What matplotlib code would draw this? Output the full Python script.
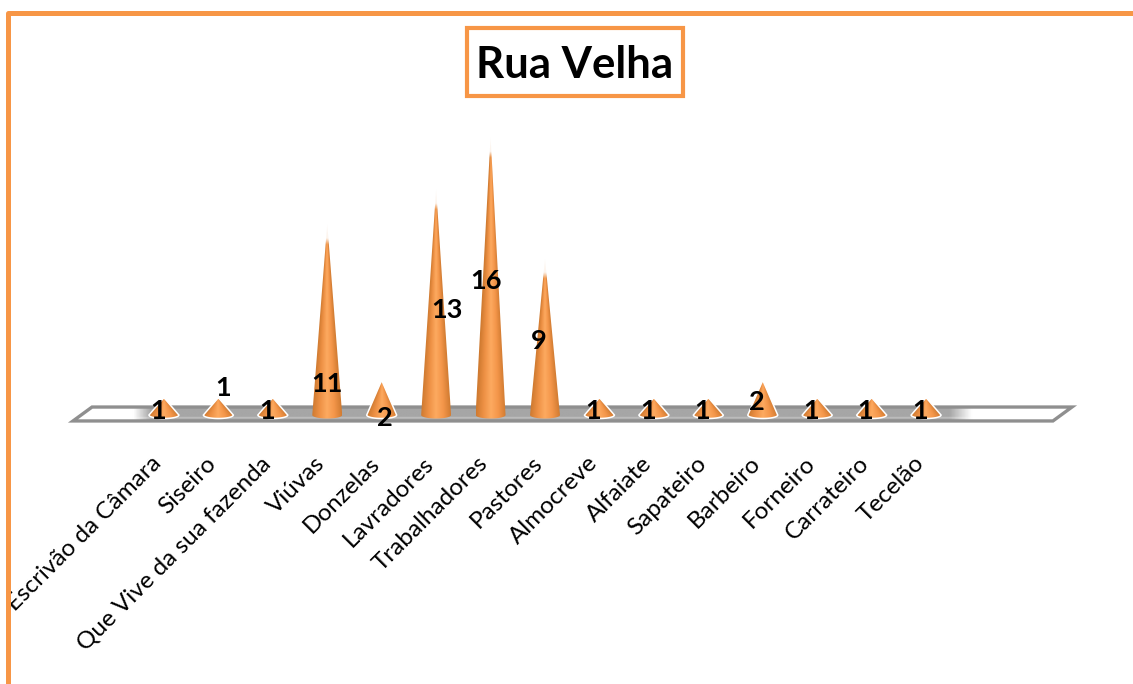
import numpy as np
import matplotlib
matplotlib.use("Agg")
import matplotlib.pyplot as plt
from matplotlib.colors import LinearSegmentedColormap
from matplotlib.lines import Line2D
from matplotlib.patches import PathPatch, Polygon, Rectangle
from matplotlib.path import Path
from matplotlib.transforms import ScaledTranslation

plt.rcParams["font.family"] = ["Lato", "DejaVu Sans"]

# Values
occupations = ["Escrivão da Câmara", "Siseiro", "Que Vive da sua fazenda", "Viúvas",
               "Donzelas", "Lavradores", "Trabalhadores", "Pastores", "Almocreve",
               "Alfaiate", "Sapateiro", "Barbeiro", "Forneiro", "Carrateiro", "Tecelão"]
counts = [1, 1, 1, 11, 2, 13, 16, 9, 1, 1, 1, 2, 1, 1, 1]

# Where each number sits relative to the tip of its cone, in pixels
label_dx = [-6, 5, -6, 0, 3, 11, -5, -6, -6, -6, -6, -6, -6, -6, -6]
label_dy = [-13, 10, -13, -160, -38, -121, -144, -83, -13, -13, -13, -22, -13, -13, -13]

ORANGE = "#f79646"
W, H = 1133, 684
CONE_HALF = 0.275
BASE_DROP = 0.2

cone_cmap = LinearSegmentedColormap.from_list("cone", ["#cf7a30", "#ee9145", "#fdaa60", "#f4964a", "#d27c32"])
floor_cmap = LinearSegmentedColormap.from_list("floor", ["#ffffff", "#a6a6a6"])


def px_x(x):
    return x / W


def px_y(y):
    return 1 - y / H


def draw_cone(ax, pos, value):
    # Gradient follows the width of the cone at each height
    xs = np.linspace(-CONE_HALF, CONE_HALF, 120)
    ys = np.linspace(value, -BASE_DROP, 300)
    xx, yy = np.meshgrid(xs, ys)
    local = np.clip(1 - yy / value, 0.03, 1) * CONE_HALF
    u = np.clip((xx / local + 1) / 2, 0, 1)
    rgba = cone_cmap(u)
    # Tall cones fade out towards the tip
    if value >= 9:
        rgba[..., 3] = np.interp(value - yy, [0, 0.8, 1.15], [0.04, 0.1, 1])
    im = ax.imshow(rgba, extent=(pos - CONE_HALF, pos + CONE_HALF, -BASE_DROP, value),
                   aspect="auto", zorder=3, interpolation="bilinear")
    t = np.linspace(np.pi, 2 * np.pi, 30)
    verts = [(pos, value)] + [(pos + CONE_HALF * np.cos(a), BASE_DROP * np.sin(a)) for a in t]
    verts.append((pos, value))
    shape = PathPatch(Path(verts), facecolor="none", edgecolor="none", transform=ax.transData)
    ax.add_patch(shape)
    im.set_clip_path(shape)
    if value < 9:
        ax.add_patch(PathPatch(Path(verts), facecolor="none", edgecolor="white", lw=1.1, zorder=4))


def draw_floor(ax):
    corners = [(-1.67, -0.34), (-1.32, 0.46), (16.68, 0.46), (16.33, -0.34)]
    ramp = np.interp(np.linspace(-1.67, 16.68, 700), [-0.57, -0.26, 14.44, 14.85], [0, 1, 1, 0])
    # Slightly paler stripe near the front edge of the floor
    grad = np.tile(ramp, (40, 1))
    grad[28:33] *= 0.75
    im = ax.imshow(grad, extent=(-1.67, 16.68, -0.34, 0.46), cmap=floor_cmap, vmin=0, vmax=1,
                   aspect="auto", zorder=1)
    plate = Polygon(corners, closed=True, facecolor="none", edgecolor="#8f8f8f", lw=2.4, zorder=2,
                    joinstyle="miter", clip_on=False)
    ax.add_patch(plate)
    im.set_clip_path(plate)


fig = plt.figure(figsize=(W / 100, H / 100), dpi=100, facecolor="white")
ax = fig.add_axes([px_x(73), px_y(422), px_x(1072 - 73), (422 - 130) / H])
ax.patch.set_alpha(0)

positions = np.arange(len(occupations))
draw_floor(ax)
for pos, value in zip(positions, counts):
    draw_cone(ax, pos, value)

for pos, value, dx, dy in zip(positions, counts, label_dx, label_dy):
    ax.annotate(str(value), xy=(pos, value), xytext=(dx, dy), textcoords="offset pixels",
                ha="center", va="center", fontsize=19.5, fontweight="bold", color="black",
                zorder=6, annotation_clip=False)

ax.set_xlim(-1.67, 16.68)
ax.set_ylim(-0.4, 16.38)
ax.set_yticks([])
ax.set_xticks(positions)
ax.set_xticklabels(occupations, rotation=45, ha="right", va="top", rotation_mode="anchor", fontsize=17.5)
ax.tick_params(axis="x", length=0, pad=22)
# Labels end further left than the tick itself
shift = ScaledTranslation(-0.13, 0, fig.dpi_scale_trans)
for tick_label in ax.get_xticklabels():
    tick_label.set_transform(tick_label.get_transform() + shift)
for side in ax.spines.values():
    side.set_visible(False)

# Title with its box
fig.add_artist(Rectangle((px_x(467), px_y(96)), 216 / W, 68 / H, transform=fig.transFigure,
                         facecolor="white", edgecolor=ORANGE, lw=3, zorder=5))
fig.text(px_x(575), px_y(65), "Rua Velha", ha="center", va="center", fontsize=31.5,
         fontweight="bold", color="black", zorder=6)

# Frame covers whatever runs off the left
fig.add_artist(Rectangle((0, 0), px_x(8), 1, transform=fig.transFigure, facecolor="white",
                         edgecolor="none", zorder=7))
fig.add_artist(Line2D([px_x(8), px_x(8), 1], [0, px_y(13), px_y(13)], transform=fig.transFigure,
                      color=ORANGE, lw=3.6, solid_joinstyle="round", zorder=8))

fig.savefig("out.png", dpi=100)
